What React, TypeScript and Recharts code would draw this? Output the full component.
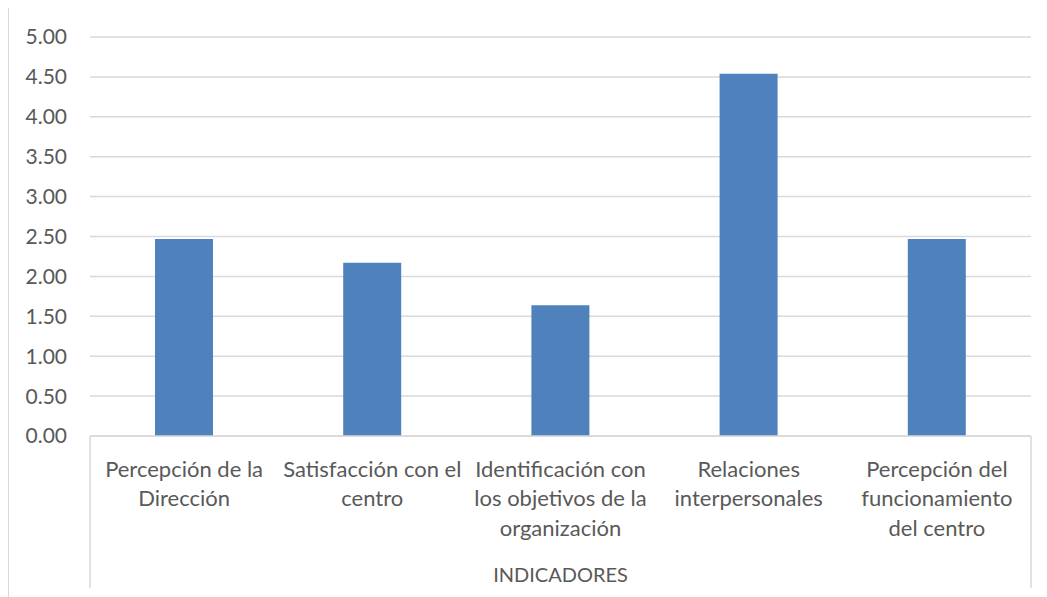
import React from "react";
import { BarChart, Bar, XAxis, YAxis, CartesianGrid, Label } from "recharts";

// Indicator names (one entry per bar) and how each label wraps on the axis
const indicadores = [
  "Percepción de la Dirección",
  "Satisfacción con el centro",
  "Identificación con los objetivos de la organización",
  "Relaciones interpersonales",
  "Percepción del funcionamiento del centro",
];
const lineasEtiqueta = [
  ["Percepción de la", "Dirección"],
  ["Satisfacción con el", "centro"],
  ["Identificación con", "los objetivos de la", "organización"],
  ["Relaciones", "interpersonales"],
  ["Percepción del", "funcionamiento", "del centro"],
];
// Mean score per indicator
const puntuaciones = [2.47, 2.17, 1.64, 4.54, 2.47];
// Value axis ticks
const marcasY = [0, 0.5, 1, 1.5, 2, 2.5, 3, 3.5, 4, 4.5, 5];
const tituloEje = "INDICADORES";

const data = indicadores.map((nombre, i) => ({ nombre, valor: puntuaciones[i] }));

const CHART_W = 1038;
const CHART_H = 588;
const MARGIN = { top: 29, right: 16, left: 0, bottom: 0 };
const Y_AXIS_W = 81;
const X_AXIS_H = 160;
const PLOT_W = CHART_W - MARGIN.left - MARGIN.right - Y_AXIS_W;
const BAND = PLOT_W / indicadores.length;

const FONT = "Lato, 'Open Sans', sans-serif";
const TEXT_COLOR = "#595959";
const LINE_COLOR = "#d9d9d9";

const CategoryTick = (props: any) => {
  const { x, y, index } = props;
  const lines = lineasEtiqueta[index] || [];
  const last = indicadores.length - 1;
  return (
    <g>
      {index === 0 && (
        <line x1={x - BAND / 2} x2={x - BAND / 2} y1={y} y2={y + 152} stroke={LINE_COLOR} strokeWidth={1.5} />
      )}
      {index === last && (
        <line x1={x + BAND / 2} x2={x + BAND / 2} y1={y} y2={y + 152} stroke={LINE_COLOR} strokeWidth={1.5} />
      )}
      {lines.map((t: string, i: number) => (
        <text
          key={i}
          x={x}
          y={y + 32 + i * 29.5}
          textAnchor="middle"
          dominantBaseline="central"
          fill={TEXT_COLOR}
          fontSize={22}
          fontFamily={FONT}
        >
          {t}
        </text>
      ))}
    </g>
  );
};

export default function App() {
  return (
    <div
      style={{
        width: 1039,
        height: 590,
        marginTop: -1,
        borderTop: `1.5px solid ${LINE_COLOR}`,
        borderLeft: `1.5px solid ${LINE_COLOR}`,
        boxSizing: "border-box",
        background: "#fff",
      }}
    >
      <BarChart width={CHART_W} height={CHART_H} data={data} margin={MARGIN}>
        <CartesianGrid vertical={false} stroke={LINE_COLOR} strokeWidth={1.5} />
        <XAxis
          dataKey="nombre"
          height={X_AXIS_H}
          interval={0}
          tickSize={0}
          tickMargin={0}
          tickLine={false}
          axisLine={{ stroke: LINE_COLOR, strokeWidth: 1.5 }}
          tick={<CategoryTick />}
        >
          <Label
            value={tituloEje}
            position="insideBottom"
            offset={14}
            fill={TEXT_COLOR}
            fontSize={20}
            fontFamily={FONT}
          />
        </XAxis>
        <YAxis
          width={Y_AXIS_W}
          domain={[0, 5]}
          ticks={marcasY}
          interval={0}
          axisLine={false}
          tickLine={false}
          tickSize={0}
          tickMargin={23}
          tickFormatter={(v: number) => v.toFixed(2)}
          tick={{ fill: TEXT_COLOR, fontSize: 21, fontFamily: FONT }}
        />
        <Bar dataKey="valor" fill="#4F81BD" barSize={58} isAnimationActive={false} />
      </BarChart>
    </div>
  );
}
